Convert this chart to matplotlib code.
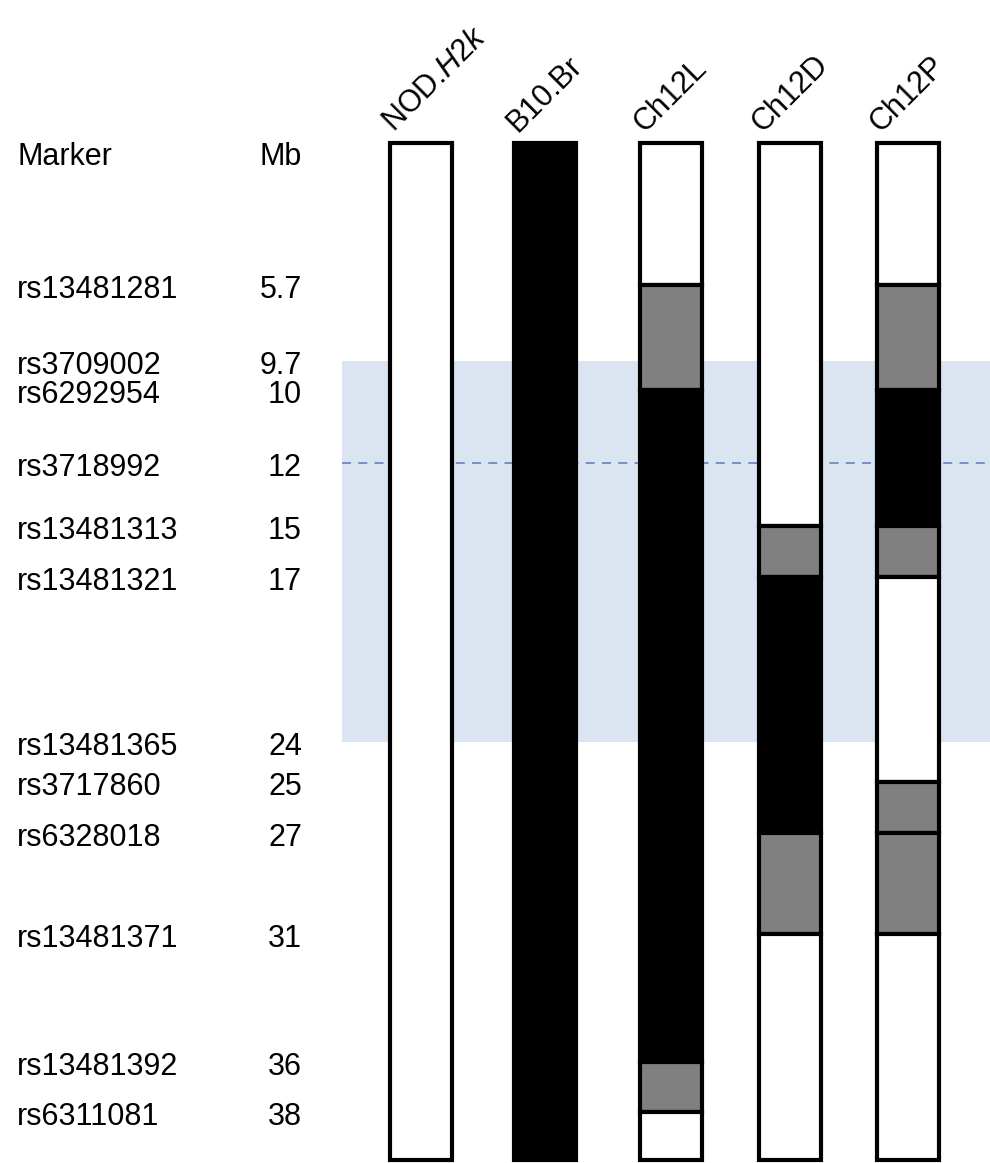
import matplotlib
matplotlib.use('Agg')
import matplotlib.pyplot as plt
from matplotlib.patches import Rectangle

plt.rcParams['font.family'] = ['Liberation Sans', 'DejaVu Sans']
plt.rcParams['mathtext.fontset'] = 'custom'
plt.rcParams['mathtext.rm'] = 'Liberation Sans'
plt.rcParams['mathtext.it'] = 'Liberation Sans:italic'

# SNP markers along chromosome 12 and their positions
markers = ['rs13481281', 'rs3709002', 'rs6292954', 'rs3718992', 'rs13481313',
           'rs13481321', 'rs13481365', 'rs3717860', 'rs6328018', 'rs13481371',
           'rs13481392', 'rs6311081']
mb = ['5.7', '9.7', '10', '12', '15', '17', '24', '25', '27', '31', '36', '38']

strains = ['NOD.$\\mathit{H2k}$', 'B10.Br', 'Ch12L', 'Ch12D', 'Ch12P']

# genotype blocks: (genotype, marker where the block ends); None = end of map
# N = NOD, B = B10.Br, H = undetermined / recombination interval
nod_h2k = [('N', None)]
b10_br = [('B', None)]
ch12l = [('N', 'rs13481281'), ('H', 'rs6292954'), ('B', 'rs13481392'),
         ('H', 'rs6311081'), ('N', None)]
ch12d = [('N', 'rs13481313'), ('H', 'rs13481321'), ('B', 'rs6328018'),
         ('H', 'rs13481371'), ('N', None)]
ch12p = [('N', 'rs13481281'), ('H', 'rs6292954'), ('B', 'rs13481313'),
         ('H', 'rs13481321'), ('N', 'rs3717860'), ('H', 'rs6328018'),
         ('H', 'rs13481371'), ('N', None)]
haplotypes = [nod_h2k, b10_br, ch12l, ch12d, ch12p]

# shaded candidate interval and peak marker
interval = ('rs3709002', 'rs13481365')
peak = 'rs3718992'

# layout (figure runs in pixel-like units, y downwards)
row_y = [285, 361, 390, 463, 526, 577, 742, 782, 833, 934, 1062, 1112]
ypos = dict(zip(markers, row_y))
col_x = [421, 545, 671, 790, 908]
bar_w = 62
bar_top, bar_bot = 143, 1160
colors = {'N': 'white', 'B': 'black', 'H': '#808080'}

fig = plt.figure(figsize=(9.9, 11.63), dpi=100)
ax = fig.add_axes([0, 0, 1, 1])
ax.set_xlim(0, 990)
ax.set_ylim(1163, 0)
ax.axis('off')

# candidate region
y0, y1 = ypos[interval[0]], ypos[interval[1]]
ax.add_patch(Rectangle((342, y0), 990 - 342, y1 - y0, facecolor='#dbe5f1',
                       edgecolor='none', zorder=0))
ax.plot([342, 990], [ypos[peak], ypos[peak]], color='#7088bf', lw=1.3,
        ls=(0, (5, 4)), zorder=1)

# haplotype columns
for x, blocks in zip(col_x, haplotypes):
    start = bar_top
    for geno, end_marker in blocks:
        end = bar_bot if end_marker is None else ypos[end_marker]
        ax.add_patch(Rectangle((x - bar_w / 2, start), bar_w, end - start,
                               facecolor=colors[geno], edgecolor='black',
                               lw=3, zorder=2))
        start = end

for x, name in zip(col_x, strains):
    ax.text(x - bar_w / 2 + 4, 133, name, rotation=45, rotation_mode='anchor',
            ha='left', va='baseline', fontsize=22)

# marker table
ax.text(17, 157, 'Marker', ha='left', va='center', fontsize=22)
ax.text(302, 157, 'Mb', ha='right', va='center', fontsize=22)
for name, pos, y in zip(markers, mb, row_y):
    ax.text(17, y + 5, name, ha='left', va='center', fontsize=22)
    ax.text(302, y + 5, pos, ha='right', va='center', fontsize=22)

fig.savefig('out.png', dpi=100)
